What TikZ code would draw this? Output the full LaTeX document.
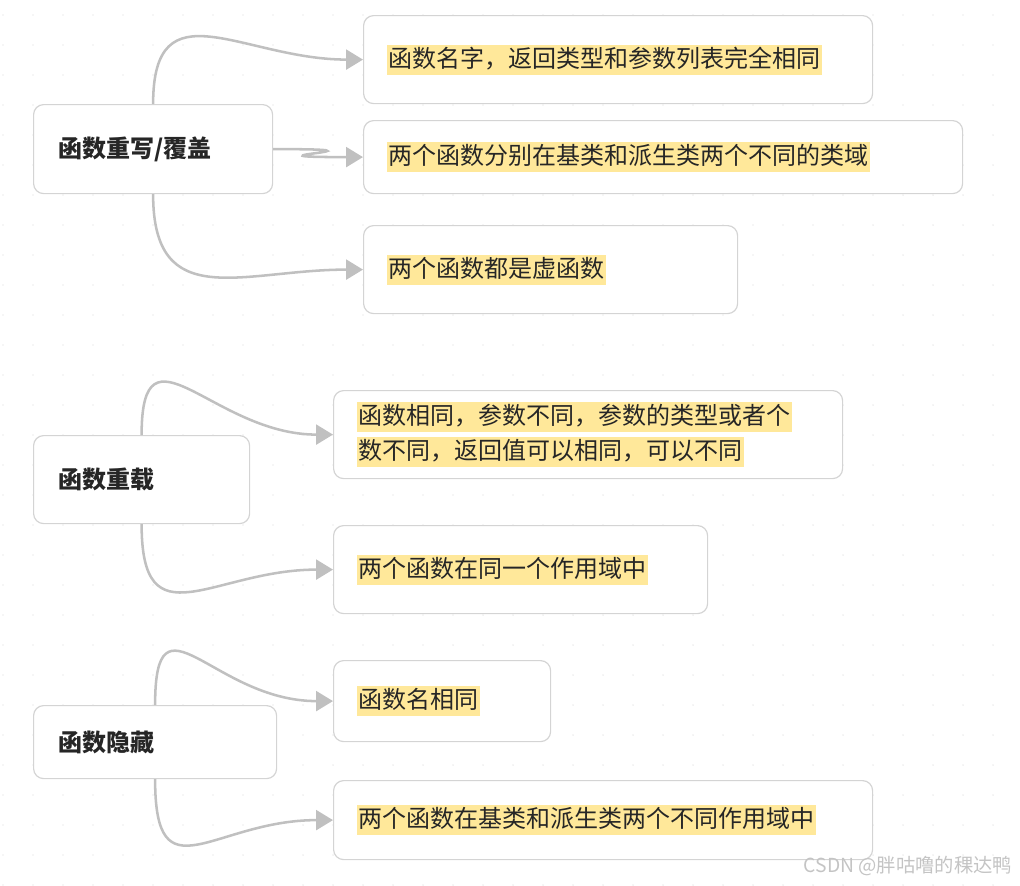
\documentclass[tikz,border=0pt]{standalone}
\usepackage{fontspec}
\setmainfont{Noto Sans CJK SC}
\usepackage{tikz}
\usetikzlibrary{arrows.meta}
\definecolor{boxgray}{HTML}{D4D4D4}
\definecolor{linkgray}{HTML}{C0C0C0}
\definecolor{hlyellow}{HTML}{FFE89A}
\definecolor{txt}{HTML}{262626}
\definecolor{dotgray}{HTML}{DADADA}
\definecolor{markgray}{HTML}{C4C4C4}
\newcommand{\hl}[1]{{\setlength{\fboxsep}{1pt}\colorbox{hlyellow}{\rule[-4.5pt]{0pt}{20.5pt}#1}}}

\begin{document}
\begin{tikzpicture}[x=0.75pt,y=-0.75pt,
  card/.style={draw=boxgray,fill=white,line width=0.9pt,rounded corners=7.5pt,anchor=north west,
    align=left,inner ysep=0pt,text=txt,font=\fontsize{18pt}{26.25pt}\selectfont},
  leaf/.style={card,inner xsep=17.75pt},
  root/.style={card,inner xsep=18.75pt,font=\fontsize{18pt}{26.25pt}\selectfont\bfseries},
  link/.style={draw=linkgray,line width=1.9pt,-{Triangle[length=12.75pt,width=15pt]}}]
\useasboundingbox (0,0) rectangle (1020,885);
\foreach \i in {0,...,33}
  \foreach \j in {0,...,29}
    \fill[dotgray] (3+30*\i,15+30*\j) circle (0.55pt);

\node[root,text width=141.75pt,minimum height=66.75pt] (over) at (33,104) {函数重写/覆盖};
\node[leaf,text width=346.25pt,minimum height=66pt] (over1) at (363,15) {\hl{函数名字，返回类型和参数列表完全相同}};
\node[leaf,text width=413.75pt,minimum height=54.75pt] (over2) at (363,120) {\hl{两个函数分别在基类和派生类两个不同的类域}};
\node[leaf,text width=245pt,minimum height=66pt] (over3) at (363,225) {\hl{两个函数都是虚函数}};

\node[root,text width=124.5pt,minimum height=66pt] (load) at (33,435) {函数重载};
\node[leaf,text width=346.25pt,minimum height=66pt] (load1) at (333,390) {\hl{函数相同，参数不同，参数的类型或者个}\\\hl{数不同，返回值可以相同，可以不同}};
\node[leaf,text width=245pt,minimum height=66pt] (load2) at (333,525) {\hl{两个函数在同一个作用域中}};

\node[root,text width=144.75pt,minimum height=54.75pt] (hide) at (33,705) {函数隐藏};
\node[leaf,text width=127.25pt,minimum height=60.75pt] (hide1) at (333,660) {\hl{函数名相同}};
\node[leaf,text width=368.75pt,minimum height=59.25pt] (hide2) at (333,780) {\hl{两个函数在基类和派生类两个不同作用域中}};

\draw[link] (over.north) .. controls +(0,-120) and +(-120,0) .. (over1.west);
\draw[link] (over.east) .. controls +(140,0) and +(-140,0) .. (over2.west);
\draw[link] (over.south) .. controls +(0,120) and +(-120,0) .. (over3.west);
\draw[link] (load.north) .. controls +(0,-120) and +(-120,0) .. (load1.west);
\draw[link] (load.south) .. controls +(0,120) and +(-120,0) .. (load2.west);
\draw[link] (hide.north) .. controls +(0,-120) and +(-120,0) .. (hide1.west);
\draw[link] (hide.south) .. controls +(0,120) and +(-120,0) .. (hide2.west);

\node[anchor=east,text=markgray,font=\fontsize{14.5pt}{14.5pt}\selectfont] (mark) at (1017,866) {CSDN @胖咕噜的稞达鸭};
\end{tikzpicture}
\end{document}
